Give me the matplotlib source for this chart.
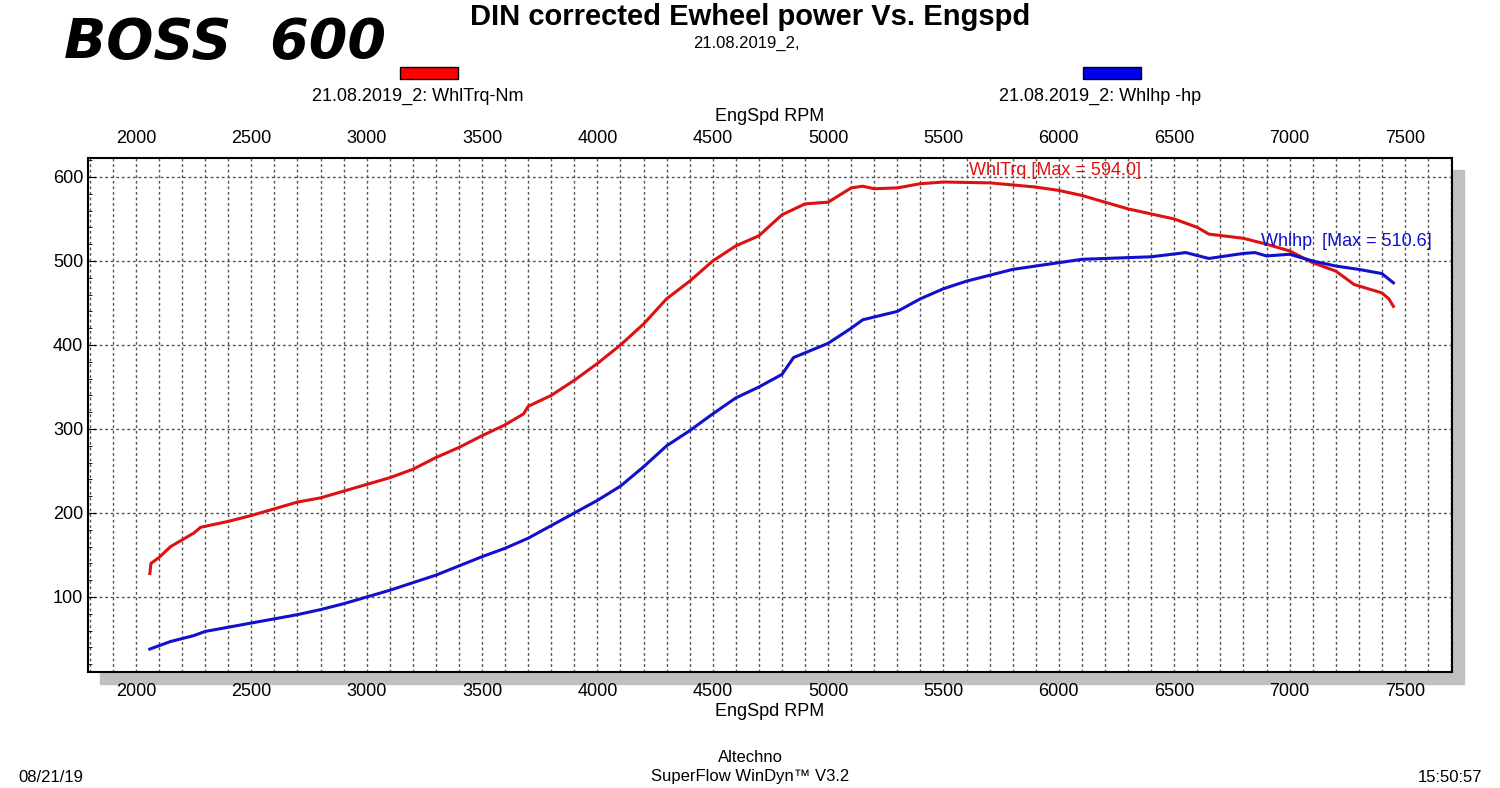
import matplotlib
matplotlib.use("Agg")
import matplotlib.pyplot as plt
from matplotlib.patches import Rectangle
import numpy as np

trq_rpm = [2060,2065,2100,2150,2200,2250,2280,2400,2500,2600,2700,2800,2900,3000,3100,3200,3300,3400,3500,3600,3680,3700,3800,3900,4000,4100,4200,4300,4400,4500,4600,4700,4800,4900,5000,5100,5150,5200,5300,5400,5500,5700,5900,6000,6100,6200,6300,6400,6500,6600,6650,6800,6900,7000,7100,7200,7280,7400,7430,7450]
trq_val = [128,140,147,160,168,176,183,190,197,205,213,218,226,234,242,252,266,278,292,305,318,327,340,358,378,400,425,455,476,500,518,530,555,568,570,587,589,586,587,592,594,593,588,584,578,570,562,556,550,540,532,527,520,512,498,488,472,462,455,446]
hp_rpm = [2060,2100,2150,2250,2300,2400,2500,2600,2700,2800,2900,3000,3100,3200,3300,3400,3500,3600,3700,3800,3900,4000,4100,4200,4300,4400,4500,4600,4700,4800,4850,5000,5100,5150,5300,5400,5500,5600,5700,5800,6000,6100,6200,6400,6550,6650,6800,6850,6900,7000,7100,7200,7300,7400,7450]
hp_val = [38,42,47,54,59,64,69,74,79,85,92,100,108,117,126,137,148,158,170,185,200,215,232,255,280,298,318,337,350,365,385,402,420,430,440,455,467,476,483,490,498,502,503,505,510,503,509,510,506,508,500,494,490,485,474]
x_ticks = [2000,2500,3000,3500,4000,4500,5000,5500,6000,6500,7000,7500]
y_ticks = [100,200,300,400,500,600]

W, H = 1500, 788
fig = plt.figure(figsize=(W/100, H/100), dpi=100)
L, R, T, B = 88, 1452, 158, 672
ax = fig.add_axes([L/W, 1-B/H, (R-L)/W, (B-T)/H])
fig.patches.append(Rectangle(((L+12)/W, 1-(B+12)/H), (R-L)/W, (B-T)/H,
                             transform=fig.transFigure, color='#c0c0c0', zorder=0))
ax.set_zorder(1)
ax.set_xlim(1792, 7704)
ax.set_ylim(10.7, 622.6)
for xv in range(1800, 7701, 100):
    ax.axvline(xv, color='#555555', lw=1, ls=(0, (2, 2)), zorder=1)
for yv in y_ticks:
    ax.axhline(yv, color='#555555', lw=1, ls=(0, (2, 2)), zorder=1)
ax.plot(trq_rpm, trq_val, color='#dd1111', lw=2.2, zorder=3)
ax.plot(hp_rpm, hp_val, color='#1111cc', lw=2.2, zorder=3)
ax.text(5983, 598, 'WhlTrq [Max = 594.0]', color='#dd1111', fontsize=13, ha='center', va='bottom', family='Liberation Sans')
ax.text(7245, 513, 'Whlhp  [Max = 510.6]', color='#1111cc', fontsize=13, ha='center', va='bottom', family='Liberation Sans')

ax.set_xticks(x_ticks)
ax.set_yticks(y_ticks)
ax.set_yticks(np.arange(20, 621, 20), minor=True)
ax.tick_params(axis='x', top=True, labeltop=True, labelsize=13, direction='out', length=0, pad=8)
ax.tick_params(axis='y', labelsize=13, direction='in', length=6, which='major')
ax.tick_params(axis='y', direction='in', length=3, which='minor')
for lab in ax.get_xticklabels() + ax.get_yticklabels():
    lab.set_family('Liberation Sans')
for s in ax.spines.values():
    s.set_linewidth(1.5)
ax.set_xlabel('EngSpd RPM', fontsize=13, family='Liberation Sans', labelpad=2)
ax.text(0.5, 1.072, 'EngSpd RPM', transform=ax.transAxes, fontsize=13, ha='center', family='Liberation Sans')

fs = dict(family='Liberation Sans')
fig.text(750/W, 1-17/H, 'DIN corrected Ewheel power Vs. Engspd', fontsize=21, fontweight='bold', ha='center', va='center', **fs)
fig.text(746/W, 1-43/H, '21.08.2019_2,', fontsize=12, ha='center', va='center', **fs)
fig.text(225/W, 1-43/H, 'BOSS  600', fontsize=40, ha='center', va='center', fontweight='heavy', fontstyle='italic', family='DejaVu Sans')
fig.patches.append(Rectangle((400/W, 1-79/H), 58/W, 12/H, transform=fig.transFigure, facecolor='red', edgecolor='black', lw=1))
fig.patches.append(Rectangle((1083/W, 1-79/H), 58/W, 12/H, transform=fig.transFigure, facecolor='#0000ee', edgecolor='black', lw=1))
fig.text(418/W, 1-96/H, '21.08.2019_2: WhlTrq-Nm', fontsize=13, ha='center', va='center', **fs)
fig.text(1100/W, 1-96/H, '21.08.2019_2: Whlhp -hp', fontsize=13, ha='center', va='center', **fs)
fig.text(750/W, 1-757/H, 'Altechno', fontsize=12, ha='center', va='center', **fs)
fig.text(750/W, 1-777/H, 'SuperFlow WinDyn\u2122 V3.2', fontsize=12, ha='center', va='center', **fs)
fig.text(18/W, 1-777/H, '08/21/19', fontsize=12, ha='left', va='center', **fs)
fig.text(1482/W, 1-777/H, '15:50:57', fontsize=12, ha='right', va='center', **fs)
fig.savefig('out.png', dpi=100)
